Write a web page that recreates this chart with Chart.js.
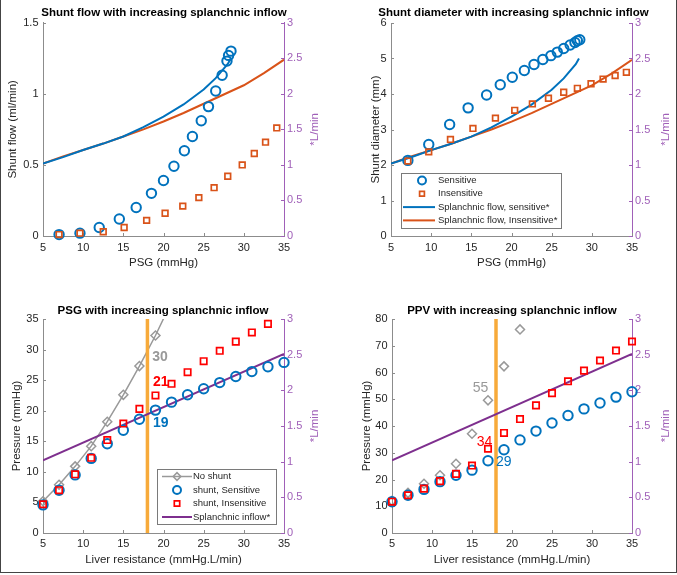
<!DOCTYPE html>
<html>
<head>
<meta charset="utf-8">
<title>Splanchnic inflow</title>
<script src="https://cdn.jsdelivr.net/npm/chart.js"></script>
<style>
  body { margin: 0; background: #fff; }
  #fig { position: relative; width: 677px; height: 575px; }
  #fig canvas { position: absolute; }
  #frame { position: absolute; left: 0; top: 0; width: 675px; height: 572px;
           border-left: 1px solid #444; border-right: 1px solid #444; border-bottom: 1px solid #444;
           pointer-events: none; }
</style>
</head>
<body>
<div id="fig">
  <canvas id="shunt-flow" width="338" height="285" style="left:0;top:0"></canvas>
  <canvas id="shunt-diameter" width="338" height="285" style="left:338px;top:0"></canvas>
  <canvas id="psg" width="338" height="288" style="left:0;top:285px"></canvas>
  <canvas id="ppv" width="338" height="288" style="left:338px;top:285px"></canvas>
  <div id="frame"></div>
</div>
<script>
// ---- tick labels
const xTicks = [5, 10, 15, 20, 25, 30, 35];
const inflowTicks = [0, 0.5, 1, 1.5, 2, 2.5, 3];
const flowTicks = [0, 0.5, 1, 1.5];
const diamTicks = [0, 1, 2, 3, 4, 5, 6];
const psgTicks = [0, 5, 10, 15, 20, 25, 30, 35];
const ppvTicks = [0, 10, 20, 30, 40, 50, 60, 70, 80];

// ---- shunt flow (ml/min) against PSG
const sensPSG = [7.0, 9.6, 12.0, 14.5, 16.6, 18.5, 20.0, 21.3, 22.6, 23.6, 24.7, 25.6, 26.5, 27.3, 27.9, 28.1, 28.4];
const sensFlow = [0.01, 0.02, 0.06, 0.12, 0.20, 0.30, 0.39, 0.49, 0.60, 0.70, 0.81, 0.91, 1.02, 1.13, 1.23, 1.27, 1.30];
const insPSG = [7.0, 9.6, 12.5, 15.1, 17.9, 20.2, 22.4, 24.4, 26.3, 28.0, 29.8, 31.3, 32.7, 34.1];
const insFlow = [0.01, 0.02, 0.03, 0.06, 0.11, 0.16, 0.21, 0.27, 0.34, 0.42, 0.50, 0.58, 0.66, 0.76];

// ---- shunt diameter (mm) against PSG
const sensPSG2 = [7.1, 9.7, 12.3, 14.6, 16.9, 18.6, 20.1, 21.6, 22.8, 23.9, 24.9, 25.7, 26.5, 27.3, 27.9, 28.2, 28.5];
const sensDiam = [2.13, 2.58, 3.14, 3.61, 3.97, 4.26, 4.47, 4.66, 4.83, 4.97, 5.08, 5.18, 5.28, 5.38, 5.45, 5.50, 5.53];
const insPSG2 = [7.1, 9.7, 12.4, 15.2, 18.0, 20.4, 22.6, 24.6, 26.5, 28.2, 29.9, 31.4, 32.9, 34.3];
const insDiam = [2.11, 2.37, 2.72, 3.03, 3.32, 3.54, 3.72, 3.88, 4.05, 4.16, 4.29, 4.42, 4.52, 4.61];

// ---- splanchnic flow (L/min) against PSG
const splSensPSG = [5, 7.5, 10, 12.5, 15, 17.5, 20, 22.5, 25, 26.5, 28, 28.4];
const splSens = [1.02, 1.11, 1.21, 1.30, 1.40, 1.53, 1.68, 1.85, 2.06, 2.22, 2.42, 2.50];
const splInsPSG = [5, 7.5, 10, 12.5, 15, 17.5, 20, 22.5, 25, 27.5, 30, 32.5, 35];
const splIns = [1.02, 1.12, 1.21, 1.30, 1.40, 1.50, 1.61, 1.73, 1.86, 1.99, 2.12, 2.29, 2.48];

// ---- liver resistance sweep (mmHg.L/min)
const resist = [5, 7, 9, 11, 13, 15, 17, 19, 21, 23, 25, 27, 29, 31, 33, 35];
const psgNoShunt = [5.2, 7.9, 10.9, 14.2, 18.2, 22.6, 27.3, 32.3, 37.8];
const psgSens = [4.6, 7.0, 9.5, 12.2, 14.6, 16.8, 18.6, 20.1, 21.4, 22.6, 23.6, 24.6, 25.6, 26.4, 27.2, 27.9];
const psgIns = [4.7, 7.0, 9.6, 12.3, 15.2, 17.9, 20.3, 22.5, 24.4, 26.3, 28.1, 29.8, 31.3, 32.8, 34.2];
const ppvNoShunt = [12.0, 15.0, 18.4, 21.6, 25.9, 37.1, 49.6, 62.3, 76.1];
const ppvSens = [11.7, 14.1, 16.3, 19.2, 21.6, 23.5, 27.0, 31.1, 34.8, 38.1, 41.1, 43.9, 46.4, 48.6, 50.8, 52.8];
const ppvIns = [11.7, 14.1, 16.6, 19.4, 22.1, 25.2, 31.5, 37.4, 42.6, 47.7, 52.3, 56.7, 60.7, 64.5, 68.2, 71.6];
const inflowR = [5, 35];
const inflow = [1.02, 2.51];
const thresholdR = 18;
const psgNotes = ['30', '21', '19'];
const ppvNotes = ['55', '34', '29'];

const FONT = '"Liberation Sans", Arial, Helvetica, sans-serif';
const BLUE = '#0072BD', ORANGE = '#D95319', RED = '#FF0000', GREY = '#999999';
const PURPLE = '#7E2F8E', GOLD = '#F7AA3A', AXIS = '#8c8c8c', TXT = '#262626', RAXIS = '#a060b8';

Chart.defaults.font.family = FONT;

const pts = (xs, ys) => ys.map((y, i) => ({x: xs[i], y: y}));

// markers are not clipped at the axes, like matlab
function markers(label, xs, ys, style, color, r, bw, order) {
    return {label: label, data: pts(xs, ys), showLine: false, pointStyle: style, clip: false,
        pointRadius: r, pointHoverRadius: r, borderColor: color, backgroundColor: 'rgba(0,0,0,0)',
        pointBorderWidth: bw, borderWidth: bw, order: order, yAxisID: 'y'};
}
function curve(label, xs, ys, color, w, axis, order) {
    return {label: label, data: pts(xs, ys), showLine: true, pointRadius: 0, borderColor: color,
        backgroundColor: color, borderWidth: w, order: order, yAxisID: axis};
}
function threshold(yMax) {
    return {data: [{x: thresholdR, y: 0}, {x: thresholdR, y: yMax}], showLine: true, pointRadius: 0,
        borderColor: GOLD, borderWidth: 3.5, order: 4, yAxisID: 'y'};
}

function drawMarker(ctx, style, x, y, r) {
    ctx.beginPath();
    if (style === 'circle') {
        ctx.arc(x, y, r, 0, 2 * Math.PI);
    } else if (style === 'rect') {
        const s = r * Math.SQRT1_2;
        ctx.rect(x - s, y - s, 2 * s, 2 * s);
    } else {
        ctx.moveTo(x - r, y); ctx.lineTo(x, y - r); ctx.lineTo(x + r, y); ctx.lineTo(x, y + r); ctx.closePath();
    }
    ctx.stroke();
}

// inward ticks, purple right title, value notes and boxed legend (matlab look)
const figureExtras = {
    id: 'figureExtras',
    beforeDatasetsDraw(chart) {
        const ctx = chart.ctx, a = chart.chartArea;
        const sx = chart.scales.x, sy = chart.scales.y, s2 = chart.scales.y2;
        ctx.save();
        ctx.lineWidth = 1;
        ctx.strokeStyle = AXIS;
        ctx.beginPath();
        sx.ticks.forEach(t => { const p = Math.round(sx.getPixelForValue(t.value)) + 0.5; ctx.moveTo(p, a.bottom); ctx.lineTo(p, a.bottom - 3); });
        sy.ticks.forEach(t => { const p = Math.round(sy.getPixelForValue(t.value)) + 0.5; ctx.moveTo(a.left, p); ctx.lineTo(a.left + 3, p); });
        ctx.stroke();
        ctx.strokeStyle = RAXIS;
        ctx.beginPath();
        s2.ticks.forEach(t => { const p = Math.round(s2.getPixelForValue(t.value)) + 0.5; ctx.moveTo(a.right, p); ctx.lineTo(a.right - 3, p); });
        ctx.stroke();
        ctx.restore();
    },
    afterDatasetsDraw(chart, args, o) {
        const ctx = chart.ctx, a = chart.chartArea;
        const sx = chart.scales.x, sy = chart.scales.y;
        ctx.save();
        // right axis title, reads bottom to top
        ctx.translate(a.right + o.rt, (a.top + a.bottom) / 2);
        ctx.rotate(-Math.PI / 2);
        ctx.fillStyle = RAXIS;
        ctx.font = '11.5px ' + FONT;
        ctx.textAlign = 'center';
        ctx.textBaseline = 'middle';
        ctx.fillText('*L/min', 0, 0);
        ctx.restore();

        (o.notes || []).forEach(n => {
            ctx.save();
            ctx.font = (n.bold ? 'bold ' : '') + '14px ' + FONT;
            ctx.fillStyle = n.color;
            ctx.textAlign = 'left';
            ctx.textBaseline = 'middle';
            ctx.fillText(n.text, sx.getPixelForValue(n.x), sy.getPixelForValue(n.y));
            ctx.restore();
        });

        const lg = o.box;
        if (!lg) return;
        ctx.save();
        ctx.fillStyle = '#fff';
        ctx.fillRect(lg.x, lg.y, lg.w, lg.h);
        ctx.strokeStyle = '#7a7a7a';
        ctx.lineWidth = 1;
        ctx.strokeRect(lg.x + 0.5, lg.y + 0.5, lg.w, lg.h);
        chart.data.datasets.filter(d => d.label).forEach((d, i) => {
            const y = lg.y + lg.first + i * lg.step;
            ctx.strokeStyle = d.borderColor;
            if (d.showLine) {
                ctx.lineWidth = d.borderWidth;
                ctx.beginPath();
                ctx.moveTo(lg.x0, y); ctx.lineTo(lg.x1, y);
                ctx.stroke();
            }
            if (d.pointRadius > 0) {
                ctx.lineWidth = d.pointBorderWidth;
                drawMarker(ctx, d.pointStyle, lg.mark, y, d.pointRadius * 0.85);
            }
            ctx.fillStyle = TXT;
            ctx.font = '9.5px ' + FONT;
            ctx.textAlign = 'left';
            ctx.textBaseline = 'middle';
            ctx.fillText(d.label, lg.tx, y);
        });
        ctx.restore();
    }
};

function setTicks(list) {
    return s => { s.ticks = list.map(v => ({value: v})); };
}
const plain = v => String(v);

function makePanel(id, g, yTicks, datasets, extras) {
    new Chart(document.getElementById(id), {
        type: 'scatter',
        data: {datasets: datasets},
        options: {
            responsive: false,
            devicePixelRatio: 1,
            animation: false,
            layout: {padding: {left: g.pl, right: g.pr, top: 0, bottom: 0}},
            plugins: {
                legend: {display: false},
                tooltip: {enabled: false},
                title: {display: true, text: g.title, color: '#000',
                    font: {size: 11.5, weight: 'bold'}, padding: {top: g.tt, bottom: g.tb}},
                figureExtras: extras
            },
            scales: {
                x: {
                    type: 'linear', min: 5, max: 35,
                    afterBuildTicks: setTicks(xTicks),
                    afterFit: s => { s.height = g.xh; },
                    grid: {display: false, drawTicks: false},
                    border: {display: true, color: AXIS, width: 1},
                    ticks: {color: TXT, font: {size: 11}, padding: g.xpad, autoSkip: false, maxRotation: 0, callback: plain},
                    title: {display: true, text: g.xTitle, color: TXT, font: {size: 11.5}, padding: {top: 0, bottom: g.xtp}}
                },
                y: {
                    type: 'linear', position: 'left', min: 0, max: yTicks[yTicks.length - 1],
                    afterBuildTicks: setTicks(yTicks),
                    afterFit: s => { s.width = g.yl - g.pl; },
                    grid: {display: false, drawTicks: false},
                    border: {display: true, color: AXIS, width: 1},
                    ticks: {color: TXT, font: {size: 11}, padding: 4.5, autoSkip: false, callback: plain},
                    title: {display: true, text: g.yTitle, color: TXT, font: {size: 11.5}, padding: {top: g.ytp - g.pl, bottom: 0}}
                },
                y2: {
                    type: 'linear', position: 'right', min: 0, max: 3,
                    afterBuildTicks: setTicks(inflowTicks),
                    afterFit: s => { s.width = g.yr - g.pr; },
                    grid: {display: false, drawTicks: false},
                    border: {display: true, color: RAXIS, width: 1},
                    ticks: {color: RAXIS, font: {size: 11}, padding: 3, autoSkip: false, callback: plain}
                }
            }
        },
        plugins: [figureExtras]
    });
}

function psgSets(sX, sY, iX, iY) {
    return [
        markers('Sensitive', sX, sY, 'circle', BLUE, 4.7, 2, 2),
        markers('Insensitive', iX, iY, 'rect', ORANGE, 4, 1.7, 1),
        curve('Splanchnic flow, sensitive*', splSensPSG, splSens, BLUE, 2, 'y2', 3),
        curve('Splanchnic flow, Insensitive*', splInsPSG, splIns, ORANGE, 2, 'y2', 4)
    ];
}

makePanel('shunt-flow',
    {title: 'Shunt flow with increasing splanchnic inflow', xTitle: 'PSG (mmHg)', yTitle: 'Shunt flow (ml/min)',
     pl: 0, pr: 10, yl: 43, yr: 54, xh: 49, tt: 6.4, tb: 2.5, ytp: 6.1, xtp: 15.1, xpad: 5.5},
    flowTicks, psgSets(sensPSG, sensFlow, insPSG, insFlow), {rt: 31});

makePanel('shunt-diameter',
    {title: 'Shunt diameter with increasing splanchnic inflow', xTitle: 'PSG (mmHg)', yTitle: 'Shunt diameter (mm)',
     pl: 13, pr: 0, yl: 53, yr: 44, xh: 49, tt: 6.4, tb: 2.8, ytp: 31.1, xtp: 15.1, xpad: 5.5},
    diamTicks, psgSets(sensPSG2, sensDiam, insPSG2, insDiam),
    {rt: 34, box: {x: 63, y: 173, w: 160, h: 55, first: 7.5, step: 13.3, x0: 65, x1: 97, mark: 84, tx: 100}});

makePanel('psg',
    {title: 'PSG with increasing splanchnic inflow', xTitle: 'Liver resistance (mmHg.L/min)', yTitle: 'Pressure (mmHg)',
     pl: 0, pr: 12, yl: 43, yr: 54, xh: 40, tt: 19.1, tb: 1.1, ytp: 10.4, xtp: 6.1, xpad: 4},
    psgTicks, [
        Object.assign(markers('No shunt', resist, psgNoShunt, 'rectRot', GREY, 4.5, 1.5, 5),
            {showLine: true, borderWidth: 1.5, clip: {left: 8, right: 8, top: 0, bottom: 8}}),
        markers('shunt, Sensitive', resist, psgSens, 'circle', BLUE, 4.7, 2, 2),
        markers('shunt, Insensitive', resist, psgIns, 'rect', RED, 4.5, 1.7, 1),
        curve('Splanchnic inflow*', inflowR, inflow, PURPLE, 2, 'y2', 3),
        threshold(psgTicks[psgTicks.length - 1])
    ],
    {rt: 31,
     notes: [{text: psgNotes[0], x: 18.6, y: 28.8, color: GREY, bold: true},
             {text: psgNotes[1], x: 18.7, y: 24.75, color: RED, bold: true},
             {text: psgNotes[2], x: 18.7, y: 17.9, color: BLUE, bold: true}],
     box: {x: 157, y: 184, w: 119, h: 55, first: 7.5, step: 13.5, x0: 162, x1: 192, mark: 177, tx: 193}});

makePanel('ppv',
    {title: 'PPV with increasing splanchnic inflow', xTitle: 'Liver resistance (mmHg.L/min)', yTitle: 'Pressure (mmHg)',
     pl: 10, pr: 0, yl: 54, yr: 44, xh: 40, tt: 19.1, tb: 1.1, ytp: 22.4, xtp: 6.1, xpad: 4},
    ppvTicks, [
        markers('No shunt', resist, ppvNoShunt, 'rectRot', GREY, 4.5, 1.5, 5),
        markers('shunt, Sensitive', resist, ppvSens, 'circle', BLUE, 4.7, 2, 2),
        markers('shunt, Insensitive', resist, ppvIns, 'rect', RED, 4.5, 1.7, 1),
        curve('Splanchnic inflow*', inflowR, inflow, PURPLE, 2, 'y2', 3),
        threshold(ppvTicks[ppvTicks.length - 1])
    ],
    {rt: 34,
     notes: [{text: ppvNotes[0], x: 15.1, y: 54.3, color: GREY, bold: false},
             {text: ppvNotes[1], x: 15.6, y: 34.0, color: RED, bold: false},
             {text: ppvNotes[2], x: 18.0, y: 26.4, color: BLUE, bold: false}]});
</script>
</body>
</html>
